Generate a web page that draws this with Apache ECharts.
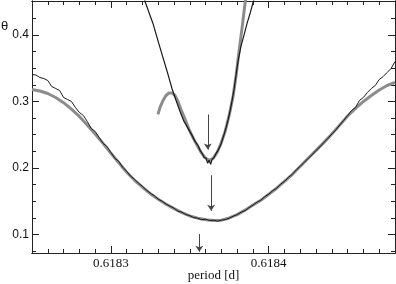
<!DOCTYPE html>
<html lang="en" style="height: 100%">
<head>
  <meta charset="utf-8">
  <style>
    html, body { margin: 0; padding: 0; background: #fff; }
    #chart { width: 396px; height: 284px; }
  </style>
</head>
<body>
  <div id="chart"></div>
  <script type="text/javascript" src="https://cdn.jsdelivr.net/npm/echarts@6/dist/echarts.min.js"></script>
  <script type="text/javascript">
    // tick positions
    const xMajorTicks = [0.6183, 0.6184];
    const xMinorTicks = [0.61826, 0.61827, 0.61828, 0.61829, 0.61830, 0.61831, 0.61832, 0.61833,
      0.61834, 0.61835, 0.61836, 0.61837, 0.61838, 0.61839, 0.61840, 0.61841, 0.61842,
      0.61843, 0.61844, 0.61845, 0.61846, 0.61847];
    const yMajorTicks = [0.1, 0.2, 0.3, 0.4];
    const yMinorTicks = [0.075, 0.125, 0.15, 0.175, 0.225, 0.25, 0.275, 0.325, 0.35, 0.375, 0.425];

    // wide dip, observed [period, theta]
    const wideObs = [
      [0.6182500, 0.3404], [0.6182525, 0.3397], [0.6182550, 0.3359], [0.6182575, 0.3344],
      [0.6182600, 0.3314], [0.6182625, 0.3224], [0.6182650, 0.3194], [0.6182675, 0.3164],
      [0.6182700, 0.3059], [0.6182725, 0.3029], [0.6182750, 0.2999], [0.6182775, 0.2909],
      [0.6182800, 0.2834], [0.6182825, 0.2789], [0.6182850, 0.2699], [0.6182875, 0.2594],
      [0.6182900, 0.2549], [0.6182925, 0.2459], [0.6182950, 0.2369], [0.6182975, 0.2324],
      [0.6183000, 0.2234], [0.6183025, 0.2144], [0.6183050, 0.2099], [0.6183075, 0.2009],
      [0.6183100, 0.1949], [0.6183125, 0.1874], [0.6183150, 0.1829], [0.6183175, 0.1769],
      [0.6183200, 0.1724], [0.6183225, 0.1664], [0.6183250, 0.1619], [0.6183275, 0.1582],
      [0.6183300, 0.1529], [0.6183325, 0.1499], [0.6183350, 0.1454], [0.6183375, 0.1424],
      [0.6183400, 0.1394], [0.6183425, 0.1349], [0.6183450, 0.1334], [0.6183475, 0.1297],
      [0.6183500, 0.1282], [0.6183525, 0.1252], [0.6183550, 0.1244], [0.6183575, 0.1222],
      [0.6183600, 0.1229], [0.6183625, 0.1207], [0.6183650, 0.1214], [0.6183675, 0.1199],
      [0.6183700, 0.1214], [0.6183725, 0.1222], [0.6183750, 0.1244], [0.6183775, 0.1274],
      [0.6183800, 0.1297], [0.6183825, 0.1334], [0.6183850, 0.1357], [0.6183875, 0.1402],
      [0.6183900, 0.1439], [0.6183925, 0.1484], [0.6183950, 0.1514], [0.6183975, 0.1567],
      [0.6184000, 0.1604], [0.6184025, 0.1657], [0.6184050, 0.1694], [0.6184075, 0.1754],
      [0.6184100, 0.1799], [0.6184125, 0.1859], [0.6184150, 0.1904], [0.6184175, 0.1971],
      [0.6184200, 0.2024], [0.6184225, 0.2084], [0.6184250, 0.2144], [0.6184275, 0.2197],
      [0.6184300, 0.2264], [0.6184325, 0.2317], [0.6184350, 0.2384], [0.6184375, 0.2444],
      [0.6184400, 0.2511], [0.6184425, 0.2571], [0.6184450, 0.2646], [0.6184475, 0.2714],
      [0.6184500, 0.2789], [0.6184525, 0.2864], [0.6184550, 0.2909], [0.6184575, 0.3014],
      [0.6184600, 0.3059], [0.6184625, 0.3134], [0.6184650, 0.3194], [0.6184675, 0.3239],
      [0.6184700, 0.3329], [0.6184725, 0.3374], [0.6184750, 0.3434], [0.6184775, 0.3494],
      [0.6184800, 0.3599]
    ];

    // wide dip, model
    const wideModel = [
      [0.618250, 0.3180], [0.618255, 0.3157], [0.618260, 0.3119], [0.618265, 0.3059],
      [0.618270, 0.2981], [0.618275, 0.2884], [0.618280, 0.2774], [0.618285, 0.2646],
      [0.618290, 0.2511], [0.618295, 0.2369], [0.618300, 0.2219], [0.618305, 0.2077],
      [0.618310, 0.1934], [0.618315, 0.1814], [0.618320, 0.1709], [0.618325, 0.1612],
      [0.618330, 0.1529], [0.618335, 0.1454], [0.618340, 0.1387], [0.618345, 0.1327],
      [0.618350, 0.1277], [0.618355, 0.1244], [0.618360, 0.1221], [0.618365, 0.1208],
      [0.618370, 0.1214], [0.618375, 0.1247], [0.618380, 0.1297], [0.618385, 0.1364],
      [0.618390, 0.1442], [0.618395, 0.1514], [0.618400, 0.1604], [0.618405, 0.1694],
      [0.618410, 0.1799], [0.618415, 0.1904], [0.618420, 0.2024], [0.618425, 0.2144],
      [0.618430, 0.2264], [0.618435, 0.2384], [0.618440, 0.2511], [0.618445, 0.2646],
      [0.618450, 0.2781], [0.618455, 0.2894], [0.618460, 0.2999], [0.618465, 0.3089],
      [0.618470, 0.3171], [0.618475, 0.3239], [0.618480, 0.3287]
    ];

    // narrow dip, observed
    const narrowObs = [
      [0.6183203, 0.4589], [0.6183235, 0.4379], [0.6183267, 0.4169], [0.6183298, 0.3914],
      [0.6183330, 0.3659], [0.6183362, 0.3404], [0.6183387, 0.3194], [0.6183413, 0.3014],
      [0.6183438, 0.2849], [0.6183463, 0.2699], [0.6183489, 0.2594], [0.6183514, 0.2489],
      [0.6183533, 0.2399], [0.6183552, 0.2339], [0.6183565, 0.2264], [0.6183578, 0.2219],
      [0.6183590, 0.2159], [0.6183603, 0.2144], [0.6183613, 0.2069], [0.6183622, 0.2114],
      [0.6183632, 0.2054], [0.6183641, 0.2129], [0.6183654, 0.2159], [0.6183667, 0.2219],
      [0.6183679, 0.2264], [0.6183692, 0.2324], [0.6183705, 0.2414], [0.6183717, 0.2504],
      [0.6183730, 0.2609], [0.6183743, 0.2729], [0.6183756, 0.2864], [0.6183768, 0.3014],
      [0.6183781, 0.3194], [0.6183794, 0.3419], [0.6183806, 0.3614], [0.6183825, 0.3839],
      [0.6183844, 0.4004], [0.6183864, 0.4184], [0.6183883, 0.4334], [0.6183902, 0.4499],
      [0.6183921, 0.4634]
    ];

    // narrow dip, model
    const narrowModel = [
      [0.6183298, 0.2804], [0.6183311, 0.2909], [0.6183330, 0.3014], [0.6183349, 0.3089],
      [0.6183368, 0.3127], [0.6183387, 0.3127], [0.6183406, 0.3089], [0.6183425, 0.2999],
      [0.6183444, 0.2879], [0.6183470, 0.2729], [0.6183495, 0.2579], [0.6183521, 0.2451],
      [0.6183546, 0.2339], [0.6183571, 0.2234], [0.6183597, 0.2151], [0.6183622, 0.2114],
      [0.6183648, 0.2144], [0.6183673, 0.2234], [0.6183698, 0.2369], [0.6183724, 0.2549],
      [0.6183749, 0.2789], [0.6183775, 0.3089], [0.6183794, 0.3404], [0.6183806, 0.3644],
      [0.6183819, 0.3884], [0.6183832, 0.4124], [0.6183844, 0.4364], [0.6183857, 0.4604]
    ];

    // arrows: [period, theta from, theta to]
    const arrows = [
      [0.6183614, 0.2804, 0.2275],
      [0.6183635, 0.1890, 0.1354],
      [0.6183560, 0.1005, 0.0739]
    ];

    const xMin = 0.61825, xMax = 0.61848;
    const yMin = 0.072, yMax = 0.451;
    const axisColor = '#222';

    function xAxisOf(position, ticks, len, withLabels) {
      return {
        type: 'value', position: position, min: xMin, max: xMax,
        axisLine: { show: true, onZero: false, lineStyle: { color: axisColor, width: 1 } },
        axisTick: { show: true, inside: true, length: len, customValues: ticks,
          lineStyle: { color: axisColor, width: 1 } },
        axisLabel: withLabels ? {
          show: true, customValues: ticks, margin: 4, color: '#111',
          fontFamily: 'Liberation Serif', fontSize: 13,
          formatter: function (v) { return v.toFixed(4); }
        } : { show: false },
        splitLine: { show: false },
        name: withLabels ? 'period [d]' : '',
        nameLocation: 'middle', nameGap: 12, nameMoveOverlap: false,
        nameTextStyle: { fontFamily: 'Liberation Serif', fontSize: 13, color: '#111',
          verticalAlign: 'top', padding: [4, 0, 0, 0] }
      };
    }

    function yAxisOf(position, ticks, len, withLabels) {
      return {
        type: 'value', position: position, min: yMin, max: yMax,
        axisLine: { show: true, onZero: false, lineStyle: { color: axisColor, width: 1 } },
        axisTick: { show: true, inside: true, length: len, customValues: ticks,
          lineStyle: { color: axisColor, width: 1 } },
        axisLabel: withLabels ? {
          show: true, customValues: ticks, margin: 3, color: '#111',
          fontFamily: 'Liberation Sans', fontSize: 12,
          formatter: function (v) { return v.toFixed(1); }
        } : { show: false },
        splitLine: { show: false }
      };
    }

    var chart = echarts.init(document.getElementById('chart'), null, { renderer: 'canvas' });

    var option = {
      animation: false,
      backgroundColor: '#fff',
      grid: { left: 32, right: 1, top: 1, bottom: 31, containLabel: false, outerBoundsMode: 'none' },
      xAxis: [
        xAxisOf('bottom', xMajorTicks, 7, true),
        xAxisOf('bottom', xMinorTicks, 4, false),
        xAxisOf('top', xMajorTicks, 7, false),
        xAxisOf('top', xMinorTicks, 4, false)
      ],
      yAxis: [
        yAxisOf('left', yMajorTicks, 7, true),
        yAxisOf('left', yMinorTicks, 4, false),
        yAxisOf('right', yMajorTicks, 7, false),
        yAxisOf('right', yMinorTicks, 4, false)
      ],
      graphic: [
        { type: 'text', left: 1, top: 20,
          style: { text: 'θ', font: '13px "Liberation Sans"', fill: '#111' } }
      ],
      series: [
        {
          type: 'line', data: wideModel, showSymbol: false, clip: true,
          lineStyle: { color: '#8c8c8c', width: 3 }
        },
        {
          type: 'line', data: narrowModel, showSymbol: false, clip: true,
          lineStyle: { color: '#8c8c8c', width: 3 }
        },
        {
          type: 'line', data: wideObs, showSymbol: false, clip: true,
          lineStyle: { color: '#1a1a1a', width: 1 }
        },
        {
          type: 'line', data: narrowObs, showSymbol: false, clip: true,
          lineStyle: { color: '#1a1a1a', width: 1.2 },
          markLine: {
            silent: true, symbol: ['none', 'arrow'], symbolSize: 6,
            label: { show: false },
            lineStyle: { color: '#444', width: 1, type: 'solid' },
            data: arrows.map(function (a) {
              return [{ coord: [a[0], a[1]] }, { coord: [a[0], a[2]] }];
            })
          }
        }
      ]
    };
    chart.setOption(option);
  </script>
</body>
</html>
